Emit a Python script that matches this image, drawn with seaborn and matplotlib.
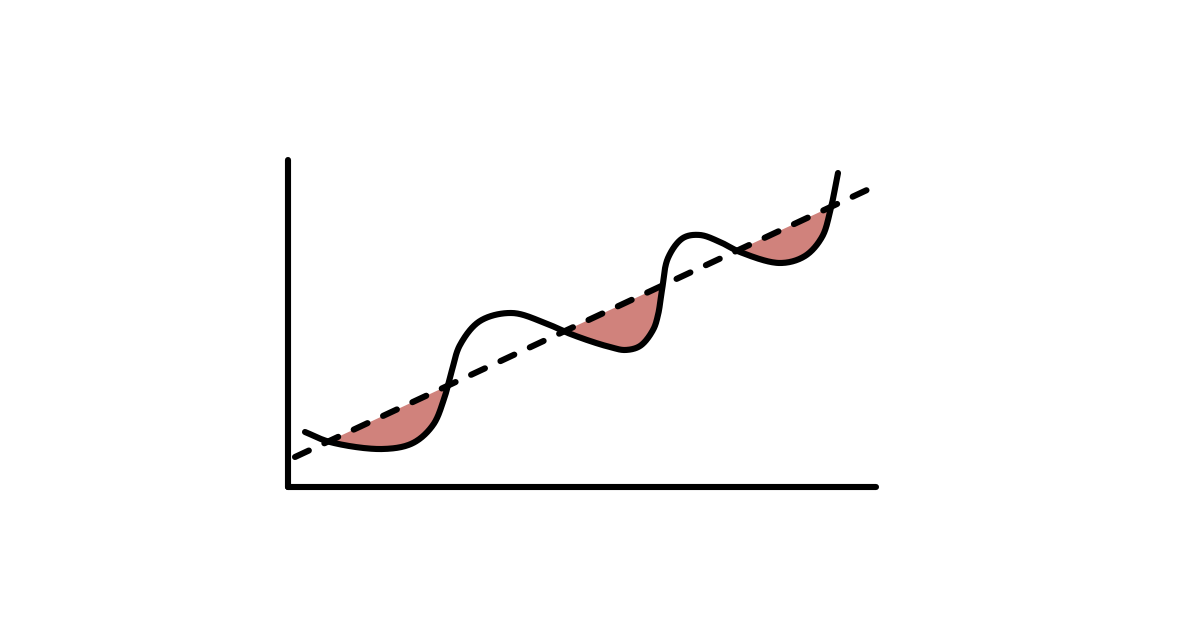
import numpy as np
import pandas as pd
import matplotlib
matplotlib.use("Agg")
import matplotlib.pyplot as plt
import seaborn as sns

# Curve values (x, y)
curve_x = [17, 42, 95, 125, 145, 156, 164, 172, 192, 224, 257, 280, 305, 322, 337, 352,
           365, 370, 374, 380, 395, 412, 432, 452, 492, 517, 534, 542, 550]
curve_y = [55, 45, 38, 44, 62, 88, 117, 142, 166, 174, 164, 154, 145, 140, 137, 141,
           157, 172, 197, 229, 249, 252, 245, 235, 224, 231, 250, 275, 314]
# Trend line endpoints
trend_x = [7, 579]
trend_y = [30, 297]


def smooth_render(x, y, n=30):
    """Centripetal Catmull-Rom rendering path through the read points."""
    P = np.column_stack([x, y]).astype(float)
    P = np.vstack([2 * P[0] - P[1], P, 2 * P[-1] - P[-2]])
    out = []
    for i in range(1, len(P) - 2):
        p0, p1, p2, p3 = P[i - 1], P[i], P[i + 1], P[i + 2]
        def tj(ti, a, b):
            return ti + max(np.hypot(*(b - a)), 1e-6) ** 0.5
        t0 = 0.0
        t1 = tj(t0, p0, p1)
        t2 = tj(t1, p1, p2)
        t3 = tj(t2, p2, p3)
        t = np.linspace(t1, t2, n, endpoint=False)[:, None]
        A1 = (t1 - t) / (t1 - t0) * p0 + (t - t0) / (t1 - t0) * p1
        A2 = (t2 - t) / (t2 - t1) * p1 + (t - t1) / (t2 - t1) * p2
        A3 = (t3 - t) / (t3 - t2) * p2 + (t - t2) / (t3 - t2) * p3
        B1 = (t2 - t) / (t2 - t0) * A1 + (t - t0) / (t2 - t0) * A2
        B2 = (t3 - t) / (t3 - t1) * A2 + (t - t1) / (t3 - t1) * A3
        C = (t2 - t) / (t2 - t1) * B1 + (t - t1) / (t2 - t1) * B2
        out.append(C)
    out.append(P[-2][None, :])
    R = np.vstack(out)
    return R[:, 0], R[:, 1]


sns.set_theme(style="white")
fig = plt.figure(figsize=(12, 6.28), dpi=100)
ax = fig.add_axes([288/1200, (628-487)/628, (876-288)/1200, (487-160)/628])
ax.set_xlim(0, 588)
ax.set_ylim(0, 327)

sx, sy = smooth_render(curve_x, curve_y)
slope = (trend_y[1]-trend_y[0])/(trend_x[1]-trend_x[0])
ty = trend_y[0] + slope*(sx-trend_x[0])
ax.fill_between(sx, sy, ty, where=sy < ty, interpolate=True,
                color="#d0827c", linewidth=0, zorder=1)

LW = 4.4
curve_df = pd.DataFrame({"x": sx, "y": sy})
sns.lineplot(data=curve_df, x="x", y="y", ax=ax, color="black", linewidth=LW,
             sort=False, estimator=None, zorder=3,
             solid_capstyle="round", solid_joinstyle="round")
trend_df = pd.DataFrame({"x": trend_x, "y": trend_y})
sns.lineplot(data=trend_df, x="x", y="y", ax=ax, color="black", linewidth=LW,
             sort=False, estimator=None, zorder=4,
             linestyle=(0, (2.5, 2.8)), dash_capstyle="round")

for s in ["top", "right", "left", "bottom"]:
    ax.spines[s].set_visible(False)
ax.plot([0, 0], [0, 327], color="black", linewidth=LW, solid_capstyle="round",
        clip_on=False, zorder=5)
ax.plot([0, 588], [0, 0], color="black", linewidth=LW, solid_capstyle="round",
        clip_on=False, zorder=5)
ax.set_xticks([])
ax.set_yticks([])
ax.set_xlabel("")
ax.set_ylabel("")
ax.patch.set_alpha(0)
fig.savefig("out.png", dpi=100, facecolor="white")
